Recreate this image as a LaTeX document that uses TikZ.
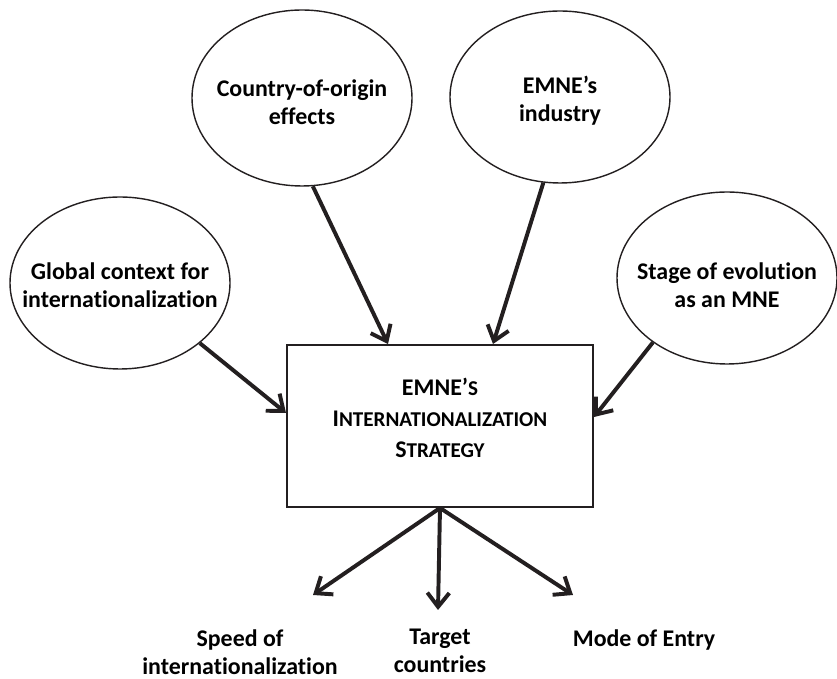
\documentclass[tikz,border=0pt]{standalone}
\usepackage{fontspec}
\setmainfont{Carlito}[Ligatures=CommonOff]
\usepackage{tikz}
\usetikzlibrary{positioning, shapes.geometric, arrows.meta}
\definecolor{lineC}{HTML}{231F20}
\newcommand{\smallcap}[1]{{\fontsize{15}{22}\selectfont #1}}

\begin{document}
\begin{tikzpicture}[
        bubble/.style={ellipse, draw=lineC, line width=1pt, minimum width=5.5cm, minimum height=4.3cm, inner sep=0pt},
        txt/.style={align=center, font=\bfseries\fontsize{17}{20}\selectfont, inner sep=0pt},
        stratbox/.style={draw=lineC, line width=1.4pt, minimum width=7.65cm, minimum height=4.05cm},
        link/.style={draw=lineC, line width=2.8pt, -{Straight Barb[length=3.5mm, width=5.5mm]}}
    ]
        \useasboundingbox (0,0) rectangle (20.925,16.975);

        % the four influences
        \node[bubble] (global) at (3.0,9.9) {};
        \node[bubble, minimum height=4.4cm] (country) at (7.55,14.525) {};
        \node[bubble] (industry) at (14.0,14.55) {};
        \node[bubble] (stage) at (18.175,10.025) {};
        \node[txt] at ([yshift=-0.05cm]global) {Global context for\\internationalization};
        \node[txt] at ([yshift=-0.1cm]country) {Country-of-origin\\effects};
        \node[txt] at ([yshift=-0.1cm]industry) {EMNE\textquoteright s\\industry};
        \node[txt] at ([yshift=-0.18cm]stage) {Stage of evolution\\as an MNE};

        % strategy in the middle
        \node[stratbox] (strategy) at (11,6.325) {};
        \node[txt, font=\bfseries\fontsize{17}{22}\selectfont] at ([yshift=0.2cm]strategy.center)
            {EMNE\textquoteright\smallcap{S}\\I\smallcap{NTERNATIONALIZATION}\\S\smallcap{TRATEGY}};

        % outcomes
        \node[txt, anchor=north] (speed) at (6.0,1.25) {Speed of\\internationalization};
        \node[txt, anchor=north] (target) at (11.0,1.25) {Target\\countries};
        \node[txt, anchor=north] (mode) at (16.1,1.25) {Mode of Entry};
        \coordinate (speedTip) at (7.825,2.1);
        \coordinate (targetTip) at (10.95,1.725);
        \coordinate (modeTip) at (14.325,2.1);

        \draw[link] (global.-37.5) -- ([yshift=0.325cm]strategy.west);
        \draw[link] (country.-83) -- ([xshift=-1.3cm]strategy.north);
        \draw[link] (industry.-101) -- ([xshift=1.325cm]strategy.north);
        \draw[link] (stage.-139) -- ([yshift=0.225cm]strategy.east);
        \draw[link] (strategy.south) -- (speedTip);
        \draw[link] (strategy.south) -- (targetTip);
        \draw[link] (strategy.south) -- (modeTip);
    \end{tikzpicture}
\end{document}
